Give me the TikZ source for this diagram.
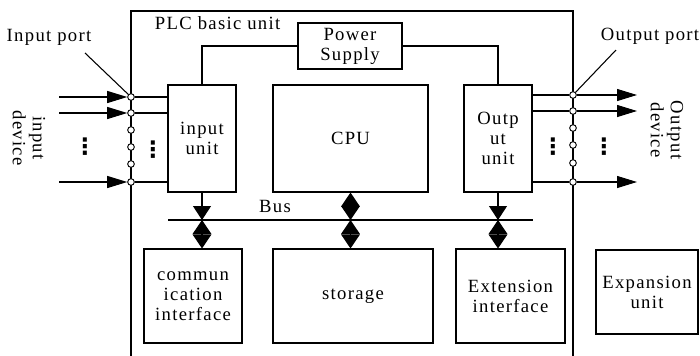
\documentclass[tikz,border=0pt]{standalone}
\usepackage{fontspec}
\setmainfont{Liberation Serif}[LetterSpace=7]
\newfontfamily\symfont{DejaVu Sans}
\usetikzlibrary{arrows.meta,calc,positioning}

\begin{document}
\begin{tikzpicture}[x=0.75pt,y=-0.75pt,line width=0.8pt,
    every node/.style={font=\fontsize{14}{15}\selectfont},
    blk/.style={draw,align=center,inner sep=0pt},
    port/.style={draw,circle,fill=white,inner sep=0pt,minimum size=5pt,line width=0.7pt},
    dots/.style={inner sep=0pt,font=\symfont\bfseries\fontsize{17}{17}\selectfont},
    sig/.style={-{Triangle[length=15pt,width=9pt]}},
    tobus/.style={-{Triangle[length=10.5pt,width=13.5pt]}},
    bibus/.style={{Triangle[length=10.5pt,width=14pt]}-{Triangle[length=10.5pt,width=14pt]}}]
  \useasboundingbox (0,0) rectangle (700,355);
  % PLC basic unit frame
  \draw (131,356) |- (573,11) -- (573,356);
  \node[anchor=west] (plc) at (150,23) {PLC basic unit};
  \node[blk,minimum width=78pt,minimum height=34.5pt] (ps) at (350,46) {Power\\Supply};
  \node[blk,minimum width=51pt,minimum height=80.25pt] (iu) at (202,138.5) {input\\unit};
  \node[blk,minimum width=116.25pt,minimum height=80.25pt] (cpu) at (350.5,138.5) {CPU};
  \node[blk,minimum width=51pt,minimum height=80.25pt] (ou) at (498,138.5) {Outp\\ut\\unit};
  \node[blk,minimum width=73.5pt,minimum height=70.5pt] (comm) at (193,296) {commun\\ication\\interface};
  \node[blk,minimum width=120pt,minimum height=70.5pt] (mem) at (353,296) {storage};
  \node[blk,minimum width=81.75pt,minimum height=70.5pt] (ext) at (510.5,296) {Extension\\interface};
  \node[blk,minimum width=76.5pt,minimum height=63pt] (exp) at (647,292) {Expansion\\unit};
  % power lines
  \draw (iu.north) |- (ps.west);
  \draw (ou.north) |- (ps.east);
  % bus
  \coordinate (bl) at (168,220);
  \coordinate (br) at (533,220);
  \draw[line width=2.2pt] (bl) -- (br);
  \node (buslbl) at (275,206) {Bus};
  \draw[tobus] (iu.south) -- (iu.south |- bl);
  \draw[tobus] (ou.south) -- (ou.south |- bl);
  \draw[bibus] (cpu.south) -- (cpu.south |- bl);
  \draw[bibus] (iu.south |- bl) -- (iu.south |- comm.north);
  \draw[bibus] (cpu.south |- bl) -- (cpu.south |- mem.north);
  \draw[bibus] (ou.south |- bl) -- (ou.south |- ext.north);
  % input side
  \foreach \i/\y in {1/97,2/113,3/130,4/147,5/164,6/182}
    \node[port] (pi\i) at (131,\y) {};
  \foreach \i/\y in {1/97,2/113,6/182} {
    \coordinate (si\i) at (59,\y);
    \draw[sig] (si\i) -- (pi\i);
    \draw (pi\i) -- (pi\i -| iu.west);
  }
  \node[dots] (dl1) at (85,147) {⋮};
  \node[dots] (dl2) at (153,150) {⋮};
  \node (inp) at (49,37) {Input port};
  \coordinate (inptr) at (85,53);
  \draw (inptr) -- (pi1);
  \node[rotate=-90,align=center] (indev) at (29,138) {input\\device};
  % output side
  \foreach \i/\y in {1/95,2/111,3/128,4/145,5/163,6/182}
    \node[port] (po\i) at (573,\y) {};
  \foreach \i/\y in {1/95,2/111,6/182} {
    \coordinate (so\i) at (637,\y);
    \draw (ou.east |- po\i) -- (po\i);
    \draw[sig] (po\i) -- (so\i);
  }
  \node[dots] (dr1) at (553,147) {⋮};
  \node[dots] (dr2) at (604,147) {⋮};
  \node (outp) at (650,36) {Output port};
  \coordinate (outptr) at (616,50);
  \draw (outptr) -- (po1);
  \node[rotate=-90,align=center] (outdev) at (667,130) {Output\\device};
\end{tikzpicture}
\end{document}
